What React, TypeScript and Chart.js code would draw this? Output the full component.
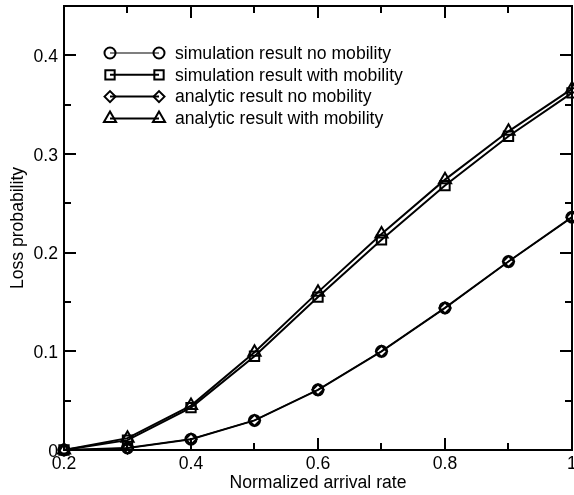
import React, { useEffect, useRef } from "react";
import { Chart, registerables } from "chart.js";
import { drawPoint } from "chart.js/helpers";

Chart.register(...registerables);

// Normalized arrival rate (x) and loss probability (y) for each curve
const arrivalRates = [0.2, 0.3, 0.4, 0.5, 0.6, 0.7, 0.8, 0.9, 1.0];
const simNoMobility = [0, 0.002, 0.011, 0.030, 0.061, 0.100, 0.144, 0.191, 0.236];
const simWithMobility = [0, 0.010, 0.043, 0.095, 0.155, 0.213, 0.268, 0.318, 0.362];
const anaNoMobility = [0, 0.002, 0.011, 0.030, 0.061, 0.100, 0.144, 0.191, 0.236];
const anaWithMobility = [0, 0.012, 0.045, 0.099, 0.160, 0.219, 0.274, 0.323, 0.366];

const seriesLabels = [
  "simulation result no mobility",
  "simulation result with mobility",
  "analytic result no mobility",
  "analytic result with mobility",
];

const xMajorTicks = [0.2, 0.4, 0.6, 0.8, 1];
const xMinorTicks = [0.3, 0.5, 0.7, 0.9];
const yMajorTicks = [0, 0.1, 0.2, 0.3, 0.4];
const yMinorTicks = [0.05, 0.15, 0.25, 0.35];

const FONT = "'Liberation Sans', Arial, Helvetica, sans-serif";
const FONT_SIZE = 17.6;

const fmt = (v: number) => String(Number(v.toFixed(2)));

// Boxed frame with inward major/minor ticks on all four sides, plus tick labels
const framePlugin = {
  id: "frame",
  afterDraw(chart: any) {
    const { ctx, chartArea: a, scales } = chart;
    const x = scales.x;
    const y = scales.y;
    ctx.save();
    ctx.strokeStyle = "#000";
    ctx.lineWidth = 2;
    ctx.strokeRect(a.left, a.top, a.right - a.left, a.bottom - a.top);
    const major = 12;
    const minor = 7;
    ctx.beginPath();
    const xt = (v: number, len: number) => {
      const px = Math.round(x.getPixelForValue(v));
      ctx.moveTo(px, a.bottom);
      ctx.lineTo(px, a.bottom - len);
      ctx.moveTo(px, a.top);
      ctx.lineTo(px, a.top + len);
    };
    const yt = (v: number, len: number) => {
      const py = Math.round(y.getPixelForValue(v));
      ctx.moveTo(a.left, py);
      ctx.lineTo(a.left + len, py);
      ctx.moveTo(a.right, py);
      ctx.lineTo(a.right - len, py);
    };
    xMajorTicks.forEach((v) => xt(v, major));
    xMinorTicks.forEach((v) => xt(v, minor));
    yMajorTicks.forEach((v) => yt(v, major));
    yMinorTicks.forEach((v) => yt(v, minor));
    ctx.stroke();

    ctx.fillStyle = "#000";
    ctx.font = `${FONT_SIZE}px ${FONT}`;
    ctx.textBaseline = "alphabetic";
    ctx.textAlign = "center";
    xMajorTicks.forEach((v) => {
      ctx.fillText(fmt(v), x.getPixelForValue(v), a.bottom + 19);
    });
    ctx.textAlign = "right";
    yMajorTicks.forEach((v) => {
      ctx.fillText(fmt(v), a.left - 6, y.getPixelForValue(v) + 6.5);
    });
    ctx.restore();
  },
};

// Legend rows: line segment with a marker at each end, then the label
const legendPlugin = {
  id: "lineLegend",
  afterDraw(chart: any) {
    const { ctx } = chart;
    const x0 = 110;
    const x1 = 159;
    const textX = 175;
    const rowY0 = 53;
    const rowGap = 21.8;
    ctx.save();
    chart.data.datasets.forEach((ds: any, i: number) => {
      const yy = rowY0 + i * rowGap;
      ctx.strokeStyle = "#000";
      ctx.lineWidth = ds.borderWidth;
      ctx.beginPath();
      ctx.moveTo(x0, yy);
      ctx.lineTo(x1, yy);
      ctx.stroke();
      const opts = {
        pointStyle: ds.pointStyle,
        radius: ds.pointRadius,
        rotation: ds.pointRotation || 0,
        borderWidth: ds.pointBorderWidth,
      };
      ctx.fillStyle = "rgba(0,0,0,0)";
      ctx.strokeStyle = "#000";
      ctx.lineWidth = ds.pointBorderWidth;
      drawPoint(ctx, opts, x0, yy);
      drawPoint(ctx, opts, x1, yy);
      ctx.fillStyle = "#000";
      ctx.font = `${FONT_SIZE}px ${FONT}`;
      ctx.textBaseline = "middle";
      ctx.textAlign = "left";
      ctx.fillText(ds.label, textX, yy + 1);
    });
    ctx.restore();
  },
};

export default function App() {
  const canvasRef = useRef<HTMLCanvasElement | null>(null);

  useEffect(() => {
    document.body.style.margin = "0";
    const canvas = canvasRef.current;
    if (!canvas) return;

    const mk = (label: string, values: number[], style: string, lineW: number, radius: number) => ({
      label,
      data: arrivalRates.map((r, i) => ({ x: r, y: values[i] })),
      borderColor: "#000",
      backgroundColor: "rgba(0,0,0,0)",
      borderWidth: lineW,
      pointStyle: style,
      pointRadius: radius,
      pointBorderWidth: 2,
      pointBorderColor: "#000",
      pointBackgroundColor: "rgba(0,0,0,0)",
      showLine: true,
      fill: false,
      tension: 0,
      clip: false as any,
    });

    const chart = new Chart(canvas, {
      type: "scatter",
      data: {
        datasets: [
          mk(seriesLabels[0], simNoMobility, "circle", 1.2, 5.5),
          mk(seriesLabels[1], simWithMobility, "rect", 2, 6.6),
          mk(seriesLabels[2], anaNoMobility, "rectRot", 2, 5.5),
          mk(seriesLabels[3], anaWithMobility, "triangle", 2, 7),
        ],
      },
      plugins: [framePlugin, legendPlugin],
      options: {
        responsive: false,
        animation: false,
        events: [],
        layout: { autoPadding: false, padding: { top: 6, right: 2, left: 0, bottom: 0 } },
        plugins: { legend: { display: false }, tooltip: { enabled: false } },
        scales: {
          x: {
            type: "linear",
            min: 0.2,
            max: 1,
            border: { display: false },
            grid: { display: false, drawTicks: false },
            afterFit: (s: any) => {
              s.height = 45;
            },
            ticks: { display: false },
            title: {
              display: true,
              text: "Normalized arrival rate",
              color: "#000",
              font: { family: FONT, size: FONT_SIZE },
              padding: { top: 1, bottom: 1 },
            },
          },
          y: {
            type: "linear",
            min: 0,
            max: 0.45,
            border: { display: false },
            grid: { display: false, drawTicks: false },
            afterFit: (s: any) => {
              s.width = 64;
            },
            ticks: { display: false },
            title: {
              display: true,
              text: "Loss probability",
              color: "#000",
              font: { family: FONT, size: FONT_SIZE },
              padding: { top: 8, bottom: 0 },
            },
          },
        },
      },
    });

    return () => chart.destroy();
  }, []);

  return <canvas ref={canvasRef} width={574} height={495} style={{ display: "block" }} />;
}
